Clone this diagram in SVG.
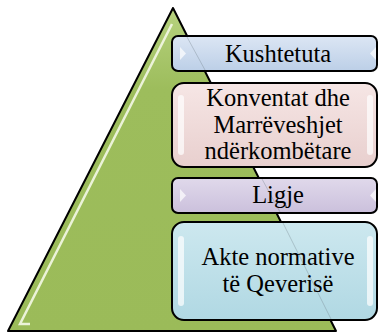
<svg xmlns="http://www.w3.org/2000/svg" width="378" height="333" viewBox="0 0 378 333">
<defs>
<linearGradient id="gTri" x1="0" y1="0" x2="0" y2="1">
<stop offset="0" stop-color="#b7d27f"/>
<stop offset="0.25" stop-color="#9dbd5c"/>
<stop offset="1" stop-color="#9bbb59"/>
</linearGradient>
<linearGradient id="gBlue" x1="0" y1="0" x2="0" y2="1">
<stop offset="0" stop-color="#dce6f4"/>
<stop offset="1" stop-color="#bccfe7"/>
</linearGradient>
<linearGradient id="gPink" x1="0" y1="0" x2="0" y2="1">
<stop offset="0" stop-color="#f6e6e5"/>
<stop offset="1" stop-color="#e8cfce"/>
</linearGradient>
<linearGradient id="gLav" x1="0" y1="0" x2="0" y2="1">
<stop offset="0" stop-color="#e0d9eb"/>
<stop offset="1" stop-color="#cbc0dc"/>
</linearGradient>
<linearGradient id="gCyan" x1="0" y1="0" x2="0" y2="1">
<stop offset="0" stop-color="#cde8ef"/>
<stop offset="1" stop-color="#b0d8e3"/>
</linearGradient>
</defs>
<style>
.box{stroke:#000;stroke-width:2}
.lbl{font-family:"Liberation Serif","Times New Roman",serif;font-size:24.5px;fill:#000;text-anchor:middle}
.deco{fill:#ffffff;opacity:0.7}
.ghost{stroke:#6f7f88;stroke-width:1;opacity:0.35;fill:none}
</style>
<g id="pyramid">
<path d="M173 8 L8 331 L336 331 Z" fill="url(#gTri)" stroke="#000" stroke-width="2" stroke-linejoin="round"/>
<path d="M172 24 L20 324 L30 324" fill="none" stroke="#f4f8e6" stroke-width="2.5" opacity="0.9"/>
</g>
<g id="kushtetuta">
<rect class="box" x="172" y="36" width="205" height="35" rx="6" fill="url(#gBlue)"/>
<path class="deco" d="M180 47 L186 53.5 L180 60 Z"/>
<path class="deco" d="M376 47 L370 53.5 L376 60 Z"/>
<line class="ghost" x1="187" y1="37" x2="205" y2="70"/>
<text class="lbl" x="278" y="62">Kushtetuta</text>
</g>
<g id="konventat">
<rect class="box" x="172" y="83" width="205" height="84" rx="12" fill="url(#gPink)"/>
<rect class="deco" x="178" y="95" width="6" height="60" rx="3"/>
<rect class="deco" x="367" y="95" width="6" height="60" rx="3"/>
<text class="lbl" x="278" y="106">Konventat dhe</text>
<text class="lbl" x="278" y="133">Marrëveshjet</text>
<text class="lbl" x="278" y="159">ndërkombëtare</text>
</g>
<g id="ligje">
<rect class="box" x="172" y="178" width="205" height="35" rx="6" fill="url(#gLav)"/>
<path class="deco" d="M180 189 L186 195.5 L180 202 Z"/>
<path class="deco" d="M376 189 L370 195.5 L376 202 Z"/>
<line class="ghost" x1="262" y1="179" x2="280" y2="212"/>
<text class="lbl" x="278" y="203">Ligje</text>
</g>
<g id="akte">
<rect class="box" x="172" y="222" width="205" height="98" rx="12" fill="url(#gCyan)"/>
<rect class="deco" x="178" y="236" width="6" height="70" rx="3"/>
<rect class="deco" x="367" y="236" width="6" height="70" rx="3"/>
<line class="ghost" x1="283" y1="223" x2="331" y2="319"/>
<text class="lbl" x="278" y="265">Akte normative</text>
<text class="lbl" x="278" y="292">të Qeverisë</text>
</g>
</svg>
